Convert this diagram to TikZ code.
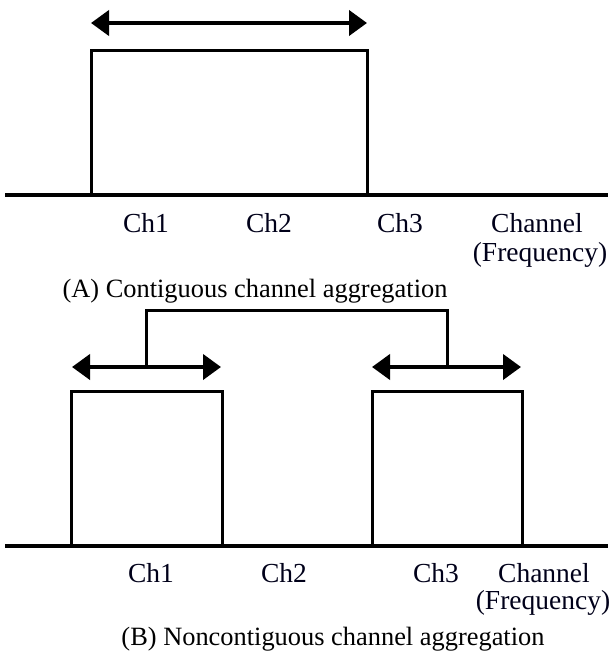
\documentclass[tikz,border=0pt]{standalone}
\usepackage{fontspec}
\setmainfont{Liberation Serif}
\usetikzlibrary{arrows.meta}
\begin{document}
\begin{tikzpicture}[x=1pt,y=-1pt,
  axis/.style={line width=4pt},
  band/.style={line width=3pt, line join=miter},
  span/.style={line width=4pt, {Triangle[length=18pt,width=25pt]}-{Triangle[length=18pt,width=25pt]}},
  link/.style={line width=3pt, line join=miter},
  chlab/.style={font=\fontsize{27.5}{30}\selectfont, anchor=base, inner sep=0pt, text=black!90!blue},
  captext/.style={font=\fontsize{26.4}{30}\selectfont, anchor=base, inner sep=0pt}]
\useasboundingbox (0,0) rectangle (610,653);
% ---------- Panel A ----------
\coordinate (aL) at (5,195);
\coordinate (aR) at (608,195);
\draw[axis] (aL) -- (aR);
\coordinate (a1) at (91,195);
\coordinate (a2) at (91,50);
\coordinate (a3) at (367,50);
\coordinate (a4) at (367,195);
\draw[band] (a1) -- (a2) -- (a3) -- (a4);
\coordinate (sa1) at (91,23);
\coordinate (sa2) at (367,23);
\draw[span] (sa1) -- (sa2);
\node[chlab] (ach1) at (146,232) {Ch1};
\node[chlab] (ach2) at (269,232) {Ch2};
\node[chlab] (ach3) at (400,232) {Ch3};
\node[chlab] (achan) at (537,232) {Channel};
\node[chlab] (afreq) at (540,261) {(Frequency)};
\node[captext] (capA) at (255,297) {(A) Contiguous channel aggregation};
% ---------- Panel B ----------
\coordinate (bL) at (5,546);
\coordinate (bR) at (608,546);
\draw[axis] (bL) -- (bR);
\coordinate (b1) at (71,546);
\coordinate (b2) at (71,391);
\coordinate (b3) at (222,391);
\coordinate (b4) at (222,546);
\draw[band] (b1) -- (b2) -- (b3) -- (b4);
\coordinate (c1) at (372,546);
\coordinate (c2) at (372,391);
\coordinate (c3) at (522,391);
\coordinate (c4) at (522,546);
\draw[band] (c1) -- (c2) -- (c3) -- (c4);
\coordinate (sb1) at (72,367);
\coordinate (sb2) at (221,367);
\coordinate (sc1) at (372,367);
\coordinate (sc2) at (521,367);
\draw[span] (sb1) -- (sb2);
\draw[span] (sc1) -- (sc2);
\coordinate (j1) at (146,367);
\coordinate (j2) at (146,310);
\coordinate (j3) at (447,310);
\coordinate (j4) at (447,367);
\draw[link] (j1) -- (j2) -- (j3) -- (j4);
\node[chlab] (bch1) at (151,582) {Ch1};
\node[chlab] (bch2) at (284,582) {Ch2};
\node[chlab] (bch3) at (436,582) {Ch3};
\node[chlab] (bchan) at (544,582) {Channel};
\node[chlab] (bfreq) at (543,609) {(Frequency)};
\node[captext] (capB) at (333,645) {(B) Noncontiguous channel aggregation};
\end{tikzpicture}
\end{document}
